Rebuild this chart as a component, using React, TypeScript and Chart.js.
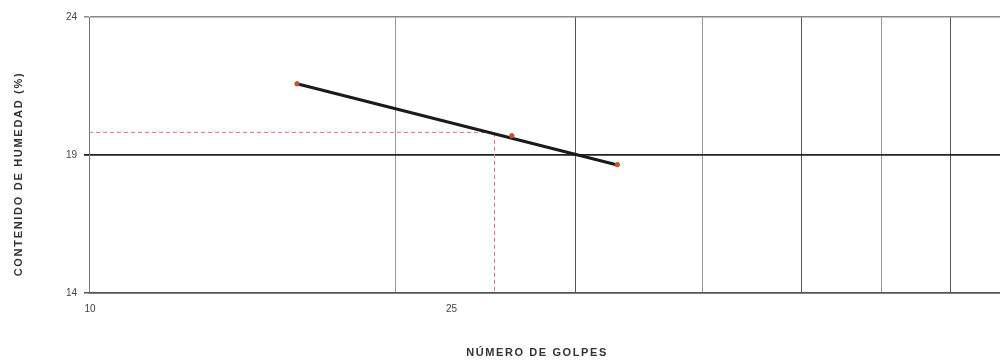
import React, { useEffect, useRef } from "react";
import { Chart, registerables } from "chart.js";

Chart.register(...registerables);

// Data
const golpes = [16, 26, 33];
const humedad = [21.58, 19.7, 18.65];
const trendX = [16, 33];
const trendY = [21.58, 18.64];
const limiteX = [10, 25, 25];
const limiteY = [19.82, 19.82, 14];
const xGridValues = [10, 20, 30, 40, 50, 60, 70, 80, 90, 100];
const xTickLabels = ["10", "25"];
const xTickValues = [10, 25];
const yTickValues = [14, 19, 24];
const yTitle = "CONTENIDO DE HUMEDAD (%)";
const xTitle = "NÚMERO DE GOLPES";

const FONT = "'Liberation Sans', Arial, sans-serif";

export default function App() {
  const ref = useRef<HTMLCanvasElement | null>(null);
  useEffect(() => {
    if (!ref.current) return;
    const textPlugin = {
      id: "texts",
      afterDraw(chart: any) {
        const ctx = chart.ctx;
        const xs = chart.scales.x;
        ctx.save();
        ctx.fillStyle = "#444";
        ctx.font = `10px ${FONT}`;
        ctx.textAlign = "center";
        ctx.textBaseline = "middle";
        xTickValues.forEach((v, i) => {
          const off = v === 25 ? -43 : 1;
          ctx.fillText(xTickLabels[i], xs.getPixelForValue(v) + off, 309);
        });
        ctx.fillStyle = "#333";
        ctx.font = `bold 11px ${FONT}`;
        (ctx as any).letterSpacing = "1.6px";
        ctx.fillText(xTitle, 537, 353);
        (ctx as any).letterSpacing = "1.7px";
        ctx.translate(19, 174);
        ctx.rotate(-Math.PI / 2);
        ctx.fillText(yTitle, 0, 0);
        ctx.restore();
      },
    };
    const chart = new Chart(ref.current, {
      type: "scatter",
      data: {
        datasets: [
          {
            data: trendX.map((x, i) => ({ x, y: trendY[i] })),
            showLine: true,
            borderColor: "#1a1a1a",
            borderWidth: 3,
            pointRadius: 0,
            order: 2,
          },
          {
            data: limiteX.map((x, i) => ({ x, y: limiteY[i] })),
            showLine: true,
            borderColor: "#d9757a",
            borderWidth: 1,
            borderDash: [4, 3],
            pointRadius: 0,
            order: 3,
          },
          {
            data: golpes.map((x, i) => ({ x, y: humedad[i] })),
            showLine: false,
            backgroundColor: "#c8502a",
            borderColor: "#c8502a",
            pointRadius: 2.2,
            order: 1,
          },
        ],
      },
      options: {
        animation: false,
        responsive: false,
        layout: { padding: { top: 17, right: 12, left: 0, bottom: 0 } },
        plugins: { legend: { display: false }, tooltip: { enabled: false } },
        scales: {
          x: {
            type: "logarithmic",
            min: 10,
            max: 100,
            afterBuildTicks: (s: any) => {
              s.ticks = xGridValues.map((v) => ({ value: v }));
            },
            afterFit: (s: any) => {
              s.height = 70;
            },
            ticks: { display: false },
            grid: {
              drawTicks: false,
              color: (c: any) => {
                const v = c.tick && c.tick.value;
                if (v === 10) return "#777";
                return [30, 50, 70, 90].includes(v) ? "#555" : "#999";
              },
              lineWidth: 1,
            },
            border: { color: "#555", width: 1.5 },
          },
          y: {
            min: 14,
            max: 24,
            afterBuildTicks: (s: any) => {
              s.ticks = yTickValues.map((v) => ({ value: v }));
            },
            afterFit: (s: any) => {
              s.width = 89;
            },
            ticks: {
              color: "#444",
              font: { size: 10, family: FONT },
              padding: 7,
            },
            grid: {
              tickLength: 5,
              color: (c: any) => {
                const v = c.tick && c.tick.value;
                if (v === 19) return "#222";
                if (v === 24) return "#888";
                return "#555";
              },
              lineWidth: (c: any) => (c.tick && c.tick.value === 19 ? 1.8 : 1.5),
            },
            border: { color: "#777", width: 1 },
          },
        },
      },
      plugins: [textPlugin],
    });
    return () => chart.destroy();
  }, []);
  return (
    <div
      style={{
        position: "fixed",
        left: 0,
        top: 0,
        width: 1000,
        height: 363,
        overflow: "hidden",
        background: "#fff",
      }}
    >
      <canvas ref={ref} width={1120} height={363} style={{ display: "block" }} />
    </div>
  );
}
